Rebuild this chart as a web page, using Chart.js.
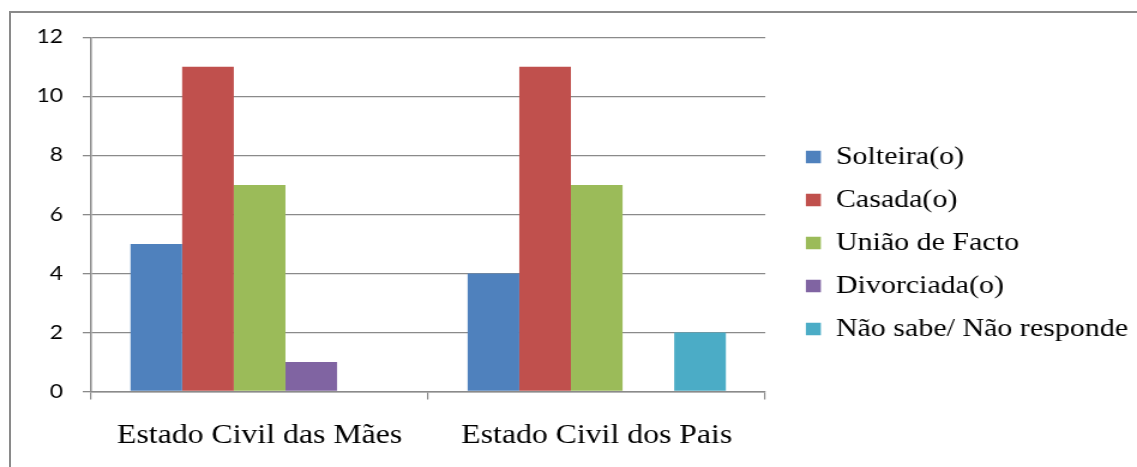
<!DOCTYPE html>
<html>
<head>
<meta charset="utf-8">
<script src="https://cdn.jsdelivr.net/npm/chart.js@4.4.1/dist/chart.umd.min.js"></script>
<style>
  html, body { margin: 0; padding: 0; background: #fff; width: 1137px; height: 467px; overflow: hidden; }
  #frame { position: absolute; left: 9px; top: 11px; width: 1200px; height: 520px; border: 2px solid #8a8a8a; box-sizing: border-box; }
  #chart { position: absolute; left: 0; top: 0; }
</style>
</head>
<body>
<div id="frame"></div>
<!-- drawn at 948 px wide and shown at 1137 px, giving the wide lettering -->
<canvas id="chart" width="948" height="467" style="width:1137px;height:467px;"></canvas>
<script>
// Estado civil dos pais e das mães (número de casos)
const categories = ['Estado Civil das Mães', 'Estado Civil dos Pais'];
const seriesNames = ['Solteira(o)', 'Casada(o)', 'União de Facto', 'Divorciada(o)', 'Não sabe/ Não responde'];
const solteira   = [5, 4];
const casada     = [11, 11];
const uniaoFacto = [7, 7];
const divorciada = [1, 0];
const naoSabe    = [0, 2];
const yTickValues = [0, 2, 4, 6, 8, 10, 12];
const seriesColors = ['#4F81BD', '#C0504D', '#9BBB59', '#8064A2', '#4BACC6'];

const seriesValues = [solteira, casada, uniaoFacto, divorciada, naoSabe];
const axisGray = '#8a8a8a';

const datasets = seriesNames.map((name, i) => ({
  label: name,
  data: seriesValues[i],
  backgroundColor: seriesColors[i],
  borderColor: seriesColors[i],
  borderWidth: 0,
  categoryPercentage: 0.766,
  barPercentage: 1.0
}));

new Chart(document.getElementById('chart'), {
  type: 'bar',
  data: { labels: categories, datasets },
  options: {
    responsive: false,
    devicePixelRatio: 1,
    animation: false,
    events: [],
    layout: { padding: { left: 0, right: 0, top: 37.3, bottom: 18.3 } },
    plugins: {
      tooltip: { enabled: false },
      legend: {
        position: 'right',
        align: 'center',
        maxWidth: 294.1,
        labels: {
          boxWidth: 12.5,
          boxHeight: 12.5,
          padding: 18,
          color: '#000',
          font: { family: '"Liberation Serif", "Times New Roman", serif', size: 25 }
        }
      }
    },
    scales: {
      x: {
        grid: {
          display: true,
          drawOnChartArea: false,
          drawTicks: true,
          tickLength: 8,
          color: axisGray,
          lineWidth: 1.2,
          offset: true
        },
        border: { display: true, color: axisGray, width: 1.5 },
        ticks: {
          color: '#000',
          padding: 21,
          maxRotation: 0,
          font: { family: '"Liberation Serif", "Times New Roman", serif', size: 26.5 }
        },
        afterFit(scale) { scale.height = 57.2; }
      },
      y: {
        min: 0,
        max: 12,
        afterBuildTicks(scale) { scale.ticks = yTickValues.map(v => ({ value: v })); },
        grid: {
          color: axisGray,
          lineWidth: 1.3,
          drawTicks: true,
          tickLength: 6.9
        },
        border: { display: true, color: axisGray, width: 1.5 },
        ticks: {
          color: '#000',
          padding: 16.5,
          font: { family: 'Lato, "Open Sans", sans-serif', size: 19 }
        },
        afterFit(scale) { scale.width = 75.9; }
      },
      // empty gap between the plot and the legend
      gap: {
        type: 'linear',
        position: 'right',
        display: true,
        grid: { display: false },
        border: { display: false },
        ticks: { display: false },
        afterFit(scale) { scale.width = 15.8; }
      }
    }
  }
});
</script>
</body>
</html>
